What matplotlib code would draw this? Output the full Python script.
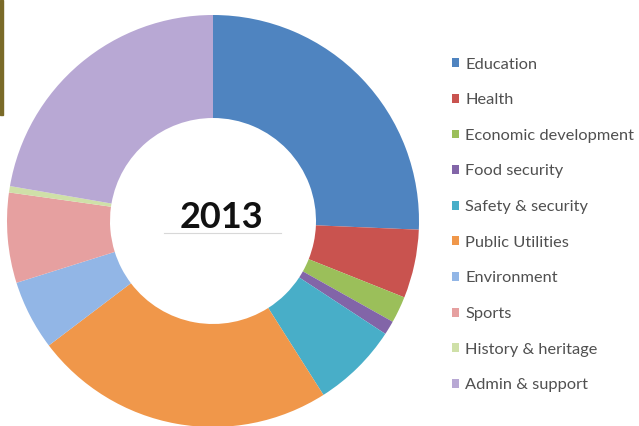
import matplotlib
matplotlib.use("Agg")
import matplotlib.pyplot as plt
from matplotlib.patches import Rectangle
import numpy as np

categories = ["Education", "Health", "Economic development", "Food security",
              "Safety & security", "Public Utilities", "Environment", "Sports",
              "History & heritage", "Admin & support"]
values = [25.8, 5.4, 2.1, 1.1, 6.8, 23.8, 5.5, 7.1, 0.5, 22.4]
colors = ["#4f84c0", "#c9534f", "#9bbf5a", "#8265a8", "#48aec8", "#f0974a",
          "#92b6e6", "#e6a0a0", "#cfe0a8", "#b8a8d4"]
year_label = "2013"

W, H = 639, 426
fig = plt.figure(figsize=(W / 100, H / 100), dpi=100)
fig.patch.set_facecolor("white")

cx, cy, r = 213, 221, 206
ax = fig.add_axes([(cx - r) / W, (H - cy - r) / H, 2 * r / W, 2 * r / H])
wedges, _ = ax.pie(values, colors=colors, startangle=90, counterclock=False,
                   radius=1.0, wedgeprops=dict(width=0.5, linewidth=0))
ax.set_xlim(-1, 1)
ax.set_ylim(-1, 1)
ax.set_aspect("equal")
ax.axis("off")

ax.text(0.04, 0.015, year_label, ha="center", va="center", fontsize=26,
        fontweight="bold", family="Lato", color="#111111")
ax.plot([-0.24, 0.33], [-0.06, -0.06], color="#d8d8d8", lw=0.8)

# decorative strip in top-left corner
fig.patches.append(Rectangle((0, 1 - 115 / H), 2.5 / W, 115 / H,
                             transform=fig.transFigure, color="#7a6a28", zorder=5))

leg = fig.legend(wedges, categories, loc="upper left",
                 bbox_to_anchor=(445 / W, 1 - 51 / H), frameon=False,
                 prop=dict(family="Lato", size=11.8), labelcolor="#505050",
                 handlelength=0.45, handleheight=0.45, handletextpad=0.4,
                 labelspacing=1.32, borderaxespad=0)

fig.savefig("out.png", dpi=100, facecolor="white")
